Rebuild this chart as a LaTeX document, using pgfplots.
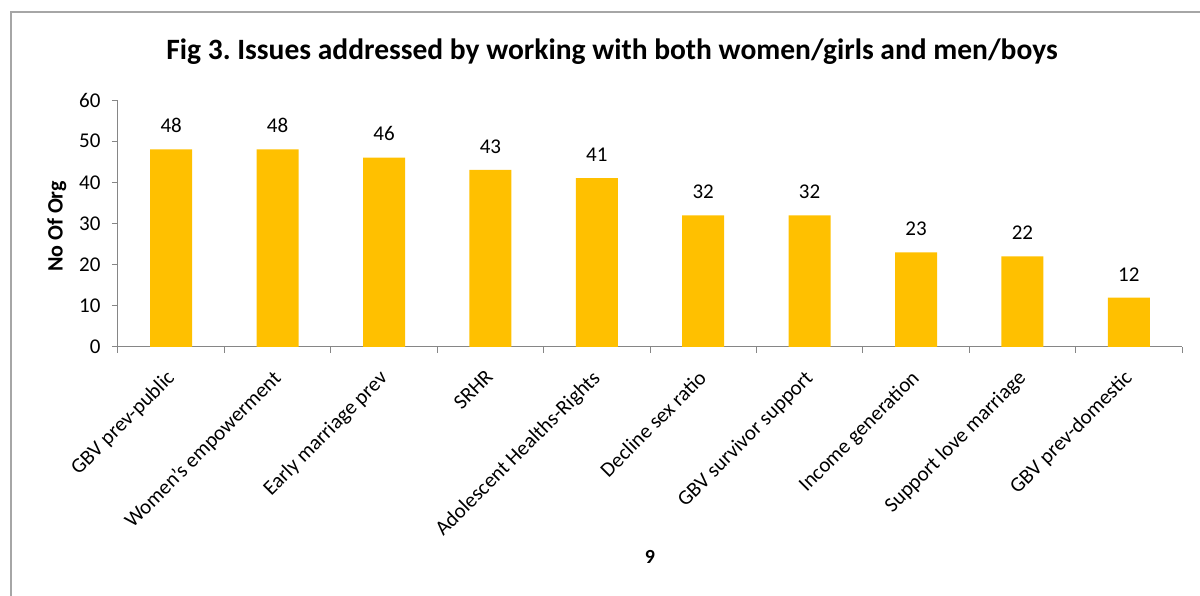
\documentclass[border=0pt]{standalone}
\usepackage{pgfplots}
\pgfplotsset{compat=1.18}
\usepackage{fontspec}
\setmainfont{Carlito}
\frenchspacing
\definecolor{barc}{HTML}{FFC000}
\definecolor{axc}{HTML}{868686}
\definecolor{framec}{HTML}{A6A6A6}
\begin{document}
\begin{tikzpicture}[x=1pt,y=1pt]
\useasboundingbox (0,0) rectangle (1200,596);
\draw[framec,line width=1.2pt] (11,-5) -- (11,584) -- (1205,584);
\node[font=\bfseries\fontsize{29.5}{33}\selectfont] at (612,544) {Fig 3. Issues addressed by working with both women/girls and men/boys};
\node[font=\bfseries\fontsize{20}{24}\selectfont] at (650,39) {9};
\begin{axis}[
  at={(118pt,249pt)}, anchor=south west,
  scale only axis, width=1064pt, height=247pt,
  xmin=-0.5, xmax=9.5, ymin=0, ymax=60,
  axis x line*=bottom, axis y line*=left,
  axis line style={axc, line width=1pt},
  ytick={0,10,...,60},
  xtick={0,...,9},
  xticklabels={GBV prev-public,Women's empowerment,Early marriage prev,SRHR,Adolescent Healths-Rights,Decline sex ratio,GBV survivor support,Income generation,Support love marriage,GBV prev-domestic},
  minor xtick={-0.5,0.5,...,9.5},
  major x tick style={draw=none},
  tick align=outside,
  tick style={axc, line width=1pt},
  major tick length=6pt, minor tick length=6pt,
  tick label style={font=\fontsize{21}{24}\selectfont},
  xticklabel style={rotate=45, anchor=north east, xshift=-12pt, yshift=-3.5pt},
  yticklabel style={xshift=-8pt},
  ylabel={No Of Org},
  every axis y label/.style={at={(ticklabel cs:0.5)}, rotate=90, anchor=center, yshift=19pt, xshift=-3pt, font=\bfseries\fontsize{22}{26}\selectfont},
  /pgf/number format/assume math mode=true,
  nodes near coords,
  every node near coord/.append style={font=\fontsize{21}{24}\selectfont, black, yshift=13pt},
]
\addplot[ybar, bar width=42pt, fill=barc, draw=none] coordinates {
(0,48) (1,48) (2,46) (3,43) (4,41) (5,32) (6,32) (7,23) (8,22) (9,12)
};
\end{axis}
\end{tikzpicture}
\end{document}
